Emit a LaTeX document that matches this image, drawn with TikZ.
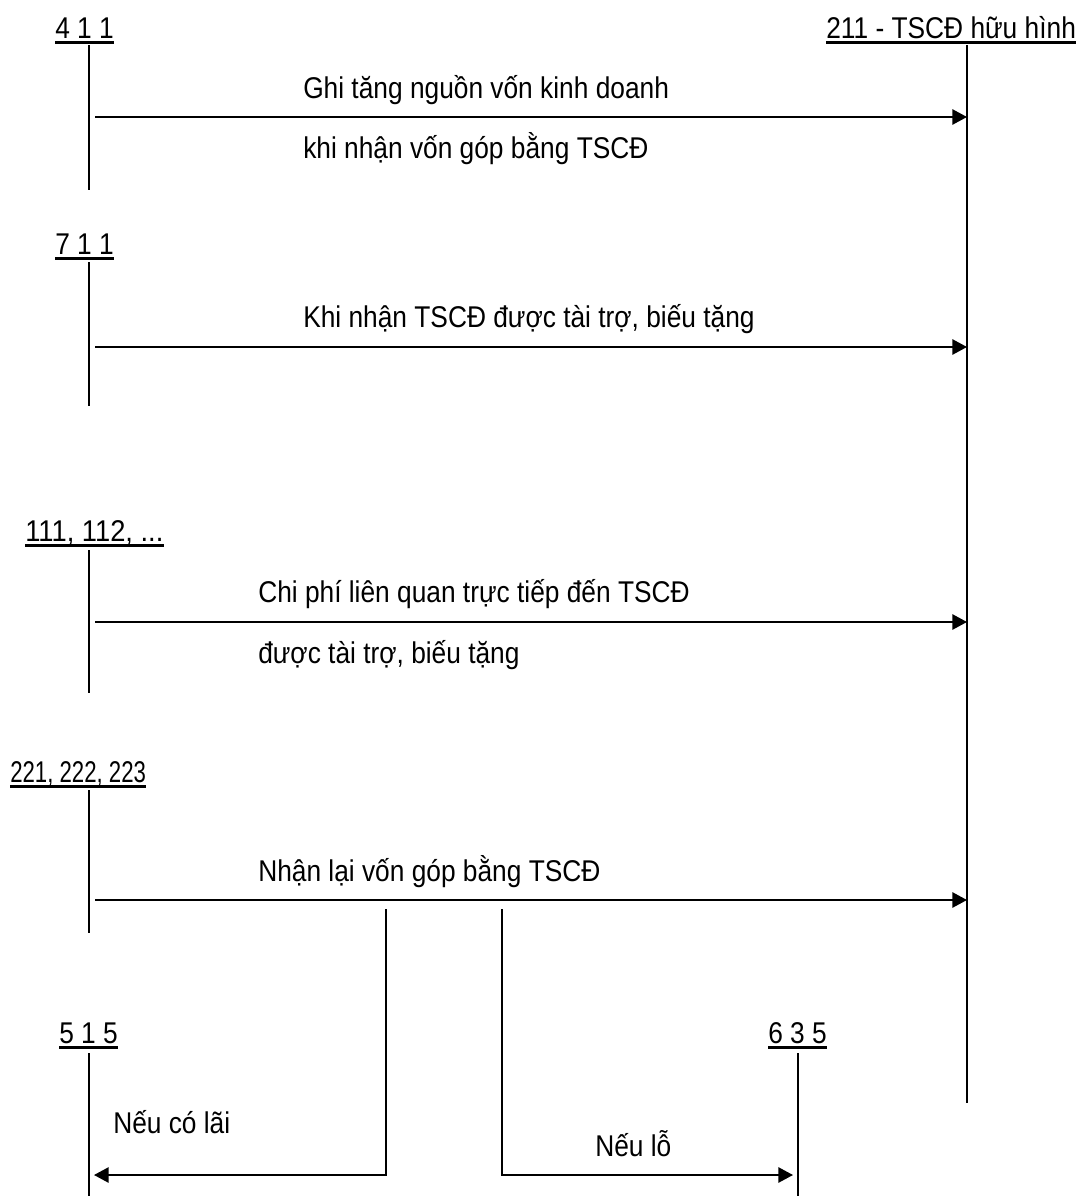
\documentclass[tikz,border=0pt]{standalone}
\usepackage{fontspec}
\setmainfont{Liberation Sans}[FakeStretch=0.877]
\newfontfamily\narrowlbl{Liberation Sans}[FakeStretch=0.74]
\newfontfamily\widelbl{Liberation Sans}[FakeStretch=0.91]
\usetikzlibrary{arrows.meta}
\begin{document}
\begin{tikzpicture}[x=0.75pt,y=-0.75pt,
  lbl/.style={inner sep=0pt, anchor=base west, text depth=0pt, font=\fontsize{22.5}{27}\selectfont},
  txt/.style={inner sep=0pt, anchor=base west, font=\fontsize{22.5}{27}\selectfont},
  acct/.style={line width=1pt},
  ul/.style={line width=2pt},
  flow/.style={line width=1.3pt, -{Triangle[length=11pt,width=11.5pt]}}
]
\useasboundingbox (0,0) rectangle (1081,1196);

% account labels
\node[lbl] (a411) at (55,38) {4 1 1};
\node[lbl] (a211) at (826,38) {211 - TSCĐ hữu hình};
\node[lbl] (a711) at (55,254) {7 1 1};
\node[lbl] (a111) at (25,541) {\widelbl 111, 112, ...};
\node[lbl] (a221) at (10,782) {\narrowlbl 221, 222, 223};
\node[lbl] (a515) at (59,1043) {5 1 5};
\node[lbl] (a635) at (768,1043) {6 3 5};
\foreach \n in {a411,a211,a711,a111,a221,a515,a635}
  \draw[ul] ([yshift=-3.2pt]\n.south west) -- ([yshift=-3.2pt]\n.south east);

% account lines
\coordinate (t411) at (89,45);   \coordinate (b411) at (89,190);
\coordinate (t211) at (967,45);  \coordinate (b211) at (967,1103);
\coordinate (t711) at (89,262);  \coordinate (b711) at (89,406);
\coordinate (t111) at (89,550);  \coordinate (b111) at (89,693);
\coordinate (t221) at (89,790);  \coordinate (b221) at (89,933);
\coordinate (t515) at (89,1053); \coordinate (b515) at (89,1196);
\coordinate (t635) at (798,1053);\coordinate (b635) at (798,1196);
\foreach \n in {411,211,711,111,221,515,635}
  \draw[acct] (t\n) -- (b\n);

% flows into 211
\coordinate (s1) at (95,117); \coordinate (e1) at (967,117);
\coordinate (s2) at (95,347); \coordinate (e2) at (967,347);
\coordinate (s3) at (95,622); \coordinate (e3) at (967,622);
\coordinate (s4) at (95,900); \coordinate (e4) at (967,900);
\draw[flow] (s1) -- (e1);
\draw[flow] (s2) -- (e2);
\draw[flow] (s3) -- (e3);
\draw[flow] (s4) -- (e4);

% branch flows
\coordinate (p1) at (386,909); \coordinate (q1) at (386,1175); \coordinate (r1) at (94,1175);
\coordinate (p2) at (502,909); \coordinate (q2) at (502,1175); \coordinate (r2) at (793,1175);
\draw[flow] (p1) -- (q1) -- (r1);
\draw[flow] (p2) -- (q2) -- (r2);

% flow texts
\node[txt] (l1a) at (303,98) {Ghi tăng nguồn vốn kinh doanh};
\node[txt] (l1b) at (303,158) {khi nhận vốn góp bằng TSCĐ};
\node[txt] (l2) at (303,327) {Khi nhận TSCĐ được tài trợ, biếu tặng};
\node[txt] (l3a) at (258,602) {Chi phí liên quan trực tiếp đến TSCĐ};
\node[txt] (l3b) at (258,663) {được tài trợ, biếu tặng};
\node[txt] (l4) at (258,881) {Nhận lại vốn góp bằng TSCĐ};
\node[txt] (l5) at (113,1133) {Nếu có lãi};
\node[txt] (l6) at (595,1156) {Nếu lỗ};
\end{tikzpicture}
\end{document}
